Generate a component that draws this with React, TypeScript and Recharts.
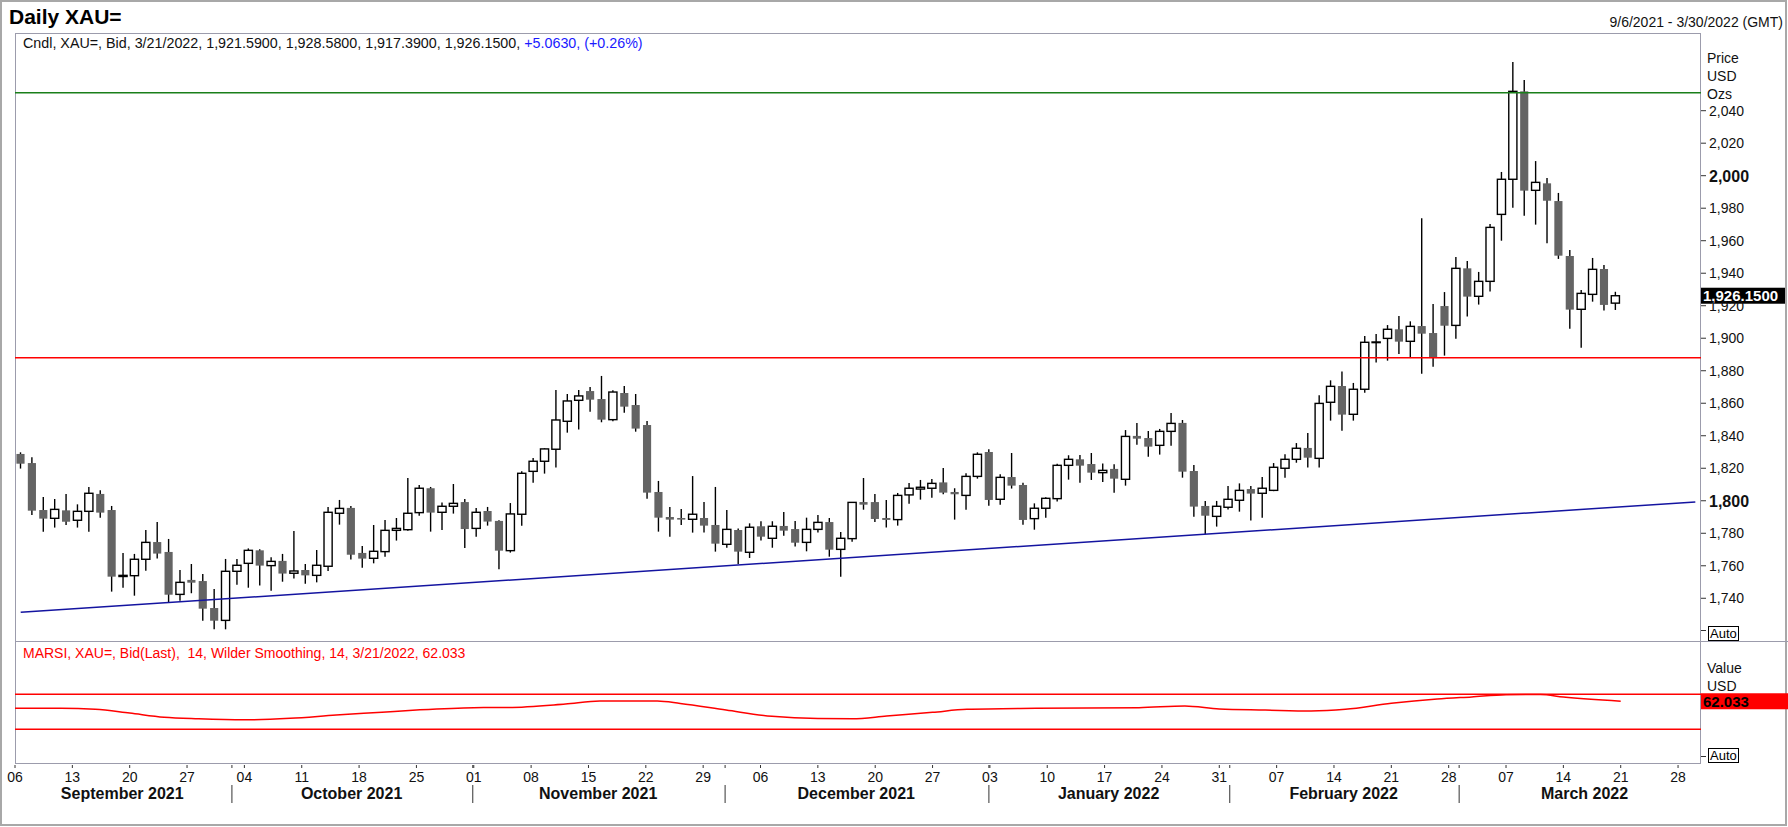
import { ComposedChart, Bar, Line, XAxis, YAxis, ReferenceLine } from "recharts";

const W = 1788;
const H = 827;
const PLOT_LEFT = 15;
const PLOT_RIGHT = 1701;
const MAIN_TOP = 33;
const MAIN_BOTTOM = 642;
const RSI_BOTTOM = 764;
const FONT = "'Liberation Sans', Arial, sans-serif";

// weekday calendar shown on the axis: 9/6/2021 - 3/30/2022
const days: string[] = [];
for (let t = Date.UTC(2021, 8, 6); t <= Date.UTC(2022, 2, 30); t += 86400000) {
  const d = new Date(t);
  const wd = d.getUTCDay();
  if (wd !== 0 && wd !== 6) days.push(d.toISOString().slice(0, 10));
}

const monthLabels = [
  "September 2021",
  "October 2021",
  "November 2021",
  "December 2021",
  "January 2022",
  "February 2022",
  "March 2022",
];

const opens = [
  1828.8, 1823.2, 1794.3, 1789.2, 1794.1, 1788.0, 1793.5, 1804.2, 1794.3, 1753.4,
  1753.9, 1764.0, 1774.6, 1768.5, 1742.4, 1751.3, 1750.6, 1734.0, 1726.4, 1756.6,
  1761.5, 1769.5, 1760.1, 1763.0, 1755.4, 1757.4, 1754.1, 1759.7, 1792.3, 1795.6,
  1767.9, 1764.6, 1768.7, 1781.8, 1782.2, 1792.7, 1807.7, 1792.9, 1796.6, 1799.2,
  1783.0, 1793.7, 1787.6, 1769.3, 1791.7, 1818.1, 1824.3, 1831.7, 1848.9, 1861.8,
  1867.5, 1862.6, 1849.9, 1866.3, 1858.9, 1846.6, 1805.4, 1790.0, 1789.4, 1788.6,
  1789.4, 1785.1, 1773.2, 1782.0, 1768.3, 1784.3, 1776.9, 1784.5, 1782.6, 1774.4,
  1782.4, 1786.9, 1770.1, 1776.7, 1799.2, 1799.2, 1789.4, 1788.4, 1803.6, 1807.2,
  1807.7, 1811.3, 1805.4, 1803.3, 1815.0, 1830.0, 1800.9, 1814.6, 1809.7, 1789.0,
  1795.4, 1801.3, 1821.8, 1825.5, 1822.6, 1817.3, 1819.6, 1813.2, 1839.9, 1838.6,
  1834.1, 1842.7, 1847.9, 1818.3, 1796.8, 1790.4, 1796.0, 1800.3, 1807.2, 1804.6,
  1806.4, 1820.0, 1825.5, 1832.5, 1826.1, 1860.6, 1870.6, 1853.2, 1868.6, 1897.3,
  1899.9, 1905.5, 1898.1, 1907.5, 1903.2, 1919.8, 1907.9, 1943.0, 1925.8, 1935.0,
  1976.2, 1997.8, 2051.9, 1991.0, 1995.3, 1984.4, 1950.6, 1917.8, 1927.0, 1942.6,
  1921.59,
];

const highs = [
  1829.8, 1826.7, 1802.3, 1801.1, 1804.2, 1797.8, 1808.5, 1806.4, 1796.8, 1767.9,
  1767.3, 1782.0, 1786.9, 1776.5, 1757.4, 1761.1, 1755.0, 1745.7, 1764.2, 1764.2,
  1770.7, 1770.1, 1765.2, 1767.3, 1781.4, 1761.1, 1769.7, 1796.2, 1800.5, 1796.8,
  1772.2, 1785.1, 1788.2, 1789.4, 1814.0, 1809.7, 1808.5, 1799.0, 1810.3, 1801.1,
  1795.6, 1796.2, 1788.0, 1798.6, 1818.1, 1826.3, 1832.3, 1868.2, 1865.7, 1868.2,
  1870.0, 1876.8, 1868.0, 1870.6, 1865.7, 1849.1, 1812.2, 1796.2, 1794.9, 1815.2,
  1799.2, 1808.5, 1794.3, 1783.0, 1786.1, 1787.4, 1787.4, 1793.1, 1787.6, 1789.6,
  1791.3, 1789.4, 1780.8, 1799.2, 1814.0, 1804.2, 1800.5, 1804.8, 1810.9, 1812.8,
  1813.4, 1820.2, 1807.7, 1816.9, 1829.8, 1831.7, 1816.3, 1829.4, 1811.1, 1798.4,
  1802.1, 1822.8, 1828.0, 1828.2, 1829.4, 1823.0, 1822.4, 1843.5, 1847.9, 1842.9,
  1844.2, 1854.0, 1849.7, 1822.0, 1799.9, 1799.9, 1809.1, 1810.7, 1809.1, 1814.6,
  1823.2, 1828.6, 1835.5, 1841.7, 1864.9, 1874.1, 1879.6, 1872.5, 1901.4, 1902.6,
  1908.1, 1913.7, 1910.4, 1973.8, 1921.1, 1928.4, 1950.0, 1947.5, 1940.8, 1970.3,
  2002.3, 2070.0, 2058.9, 2009.0, 1998.6, 1989.4, 1954.3, 1929.7, 1949.4, 1945.1,
  1928.58,
];

const lows = [
  1819.8, 1791.2, 1781.0, 1783.5, 1785.1, 1783.5, 1781.0, 1789.6, 1744.1, 1746.5,
  1741.6, 1757.0, 1764.4, 1737.5, 1738.5, 1743.1, 1726.2, 1720.9, 1720.9, 1748.4,
  1746.5, 1747.8, 1744.7, 1750.2, 1752.1, 1749.0, 1749.8, 1756.8, 1785.3, 1763.8,
  1758.8, 1761.5, 1765.6, 1775.5, 1781.6, 1790.8, 1781.0, 1782.0, 1792.1, 1770.9,
  1777.9, 1784.7, 1757.8, 1768.1, 1784.7, 1811.1, 1816.7, 1820.4, 1841.9, 1843.8,
  1854.8, 1848.3, 1848.9, 1854.2, 1842.5, 1801.3, 1781.0, 1777.9, 1785.1, 1780.4,
  1780.4, 1768.7, 1771.1, 1761.1, 1764.8, 1775.5, 1771.1, 1778.5, 1771.8, 1768.9,
  1780.4, 1765.6, 1753.3, 1774.8, 1794.5, 1786.9, 1783.5, 1784.7, 1798.2, 1800.7,
  1801.9, 1804.0, 1788.4, 1794.5, 1813.6, 1797.0, 1797.6, 1807.5, 1785.3, 1782.2,
  1789.6, 1799.5, 1813.0, 1811.1, 1812.8, 1811.5, 1805.0, 1809.3, 1834.5, 1827.1,
  1828.4, 1833.9, 1814.2, 1790.2, 1779.4, 1784.1, 1794.7, 1793.3, 1787.8, 1789.6,
  1805.9, 1814.2, 1823.4, 1820.4, 1820.4, 1849.3, 1843.1, 1849.3, 1866.5, 1885.0,
  1886.2, 1890.3, 1887.8, 1878.2, 1882.5, 1889.3, 1899.7, 1913.3, 1920.7, 1928.7,
  1960.0, 1980.3, 1975.4, 1969.9, 1958.4, 1948.8, 1905.9, 1894.2, 1922.5, 1917.0,
  1917.39,
];

const closes = [
  1822.8, 1793.9, 1789.0, 1794.7, 1787.1, 1793.5, 1804.6, 1792.7, 1753.3, 1754.1,
  1764.0, 1774.4, 1767.5, 1742.2, 1749.8, 1749.6, 1733.6, 1726.2, 1756.6, 1760.3,
  1769.5, 1760.1, 1762.7, 1755.2, 1756.8, 1754.1, 1760.3, 1792.9, 1795.3, 1766.8,
  1764.4, 1768.9, 1781.8, 1783.0, 1792.3, 1807.7, 1792.7, 1796.6, 1798.4, 1782.6,
  1792.9, 1787.2, 1769.3, 1791.9, 1816.9, 1824.3, 1831.9, 1849.7, 1861.4, 1864.5,
  1862.2, 1849.9, 1866.9, 1857.9, 1844.4, 1805.0, 1789.6, 1788.4, 1788.4, 1791.7,
  1784.7, 1773.6, 1782.4, 1768.7, 1783.7, 1777.9, 1784.3, 1781.6, 1774.2, 1782.4,
  1786.7, 1769.9, 1776.9, 1799.0, 1797.6, 1788.8, 1788.2, 1803.3, 1807.7, 1808.3,
  1810.7, 1805.0, 1804.0, 1815.0, 1828.6, 1800.5, 1814.4, 1809.3, 1788.2, 1795.4,
  1801.5, 1821.8, 1825.5, 1821.6, 1817.3, 1818.7, 1813.6, 1839.6, 1838.2, 1833.3,
  1842.7, 1847.6, 1817.9, 1796.4, 1790.8, 1796.6, 1800.9, 1806.4, 1804.4, 1807.7,
  1820.6, 1825.5, 1832.3, 1826.5, 1859.9, 1870.4, 1853.0, 1868.6, 1897.5, 1897.7,
  1905.5, 1897.9, 1907.3, 1902.8, 1887.8, 1907.7, 1943.0, 1925.6, 1935.0, 1968.2,
  1997.8, 2051.9, 1990.8, 1995.9, 1984.6, 1950.8, 1917.6, 1927.6, 1942.4, 1920.5,
  1926.15,
];

// MARSI(14): [trading-day index, value]
const rsiPoints: [number, number][] = [
  [0, 54.0], [4, 54.0], [7, 52.9], [10, 48.5], [13, 43.8], [16, 42.0], [20, 40.8],
  [24, 42.6], [28, 46.3], [32, 49.5], [35, 52.0], [40, 54.7], [43, 54.9], [48, 58.9],
  [51, 62.2], [56, 62.3], [58, 59.5], [62, 52.0], [66, 44.8], [70, 42.2], [73, 42.0],
  [76, 45.2], [80, 49.4], [83, 52.8], [89, 54.0], [98, 54.7], [102, 56.6], [105, 53.2],
  [109, 52.0], [113, 50.9], [116, 52.8], [120, 59.7], [124, 64.6], [127, 67.0],
  [130, 69.4], [133, 69.8], [135, 66.8], [140, 62.033],
];

const priceTicks = [1740, 1760, 1780, 1800, 1820, 1840, 1860, 1880, 1900, 1920, 1940, 1960, 1980, 2000, 2020, 2040];
const priceDomain: [number, number] = [1713.1, 2087.8];
const resistance = 2051;
const support = 1888;
const trendStart = 1731.4;
const trendEnd = 1799.3;
const rsiLevels = [70, 30];
const rsiDomain: [number, number] = [-9.7, 129.8];

const rsiMap = new Map(rsiPoints);
const data = days.map((date, i) => ({
  date,
  open: opens[i] ?? null,
  high: highs[i] ?? null,
  low: lows[i] ?? null,
  close: closes[i] ?? null,
  rsi: rsiMap.has(i) ? rsiMap.get(i) : null,
}));

const lastClose = closes[closes.length - 1];
const lastRsi = rsiPoints[rsiPoints.length - 1][1];

const monthSpans = monthLabels.map((label, k) => {
  const idx = days
    .map((d, i) => ({ d, i }))
    .filter(({ d }) => {
      const dt = new Date(d + "T00:00:00Z");
      const m = (dt.getUTCFullYear() - 2021) * 12 + dt.getUTCMonth() - 8;
      return m === k;
    })
    .map(({ i }) => i);
  return { label, first: idx[0], last: idx[idx.length - 1] };
});

const band = (PLOT_RIGHT - PLOT_LEFT) / days.length;

const Candle = (props: any) => {
  const { x, y, width, height, payload } = props;
  if (payload == null || payload.open == null) return null;
  const { open, high, low, close } = payload;
  const top = Math.min(y, y + height);
  const h = Math.abs(height);
  const ratio = high > low ? h / (high - low) : 0;
  const yOf = (v: number) => top + (high - v) * ratio;
  const cx = x + width / 2;
  const bw = width * 0.74;
  const up = close >= open;
  const bTop = yOf(Math.max(open, close));
  const bBot = yOf(Math.min(open, close));
  return (
    <g>
      <line x1={cx} x2={cx} y1={top} y2={top + h} stroke="#000" strokeWidth={1.4} />
      {up ? (
        <rect x={cx - bw / 2} y={bTop} width={bw} height={Math.max(bBot - bTop, 0.5)} fill="#fff" stroke="#000" strokeWidth={1.4} />
      ) : (
        <rect x={cx - bw / 2} y={bTop} width={bw} height={Math.max(bBot - bTop, 1.5)} fill="#646464" />
      )}
    </g>
  );
};

const PriceTick = (props: any) => {
  const { y, payload } = props;
  const v = payload.value as number;
  const bold = v % 200 === 0;
  return (
    <g>
      <line x1={PLOT_RIGHT} x2={PLOT_RIGHT + 5} y1={y} y2={y} stroke="#333" />
      <text
        x={PLOT_RIGHT + 8}
        y={y + (bold ? 6 : 5)}
        fontSize={bold ? 16 : 14}
        fontWeight={bold ? 700 : 400}
        fontFamily={FONT}
        fill="#111"
      >
        {v.toLocaleString("en-US")}
      </text>
    </g>
  );
};

const DateTick = (props: any) => {
  const { x, payload } = props;
  const date: string = payload.value;
  const i = days.indexOf(date);
  const dt = new Date(date + "T00:00:00Z");
  const out: any[] = [];
  if (dt.getUTCDay() === 1) {
    out.push(<line key="t" x1={x} x2={x} y1={RSI_BOTTOM + 1} y2={RSI_BOTTOM + 4} stroke="#333" />);
    out.push(
      <text key="d" x={x} y={RSI_BOTTOM + 18} textAnchor="middle" fontSize={14} fontFamily={FONT} fill="#111">
        {String(dt.getUTCDate()).padStart(2, "0")}
      </text>
    );
  }
  for (const s of monthSpans) {
    if (s.first === i && i > 0) {
      out.push(<line key="s1" x1={x - 1} x2={x - 1} y1={RSI_BOTTOM + 1} y2={RSI_BOTTOM + 4} stroke="#333" />);
      out.push(<line key="s2" x1={x - 1} x2={x - 1} y1={RSI_BOTTOM + 21} y2={RSI_BOTTOM + 39} stroke="#333" />);
    }
    const mid = (s.first + s.last) / 2;
    if (Math.floor(mid) === i) {
      out.push(
        <text
          key="m"
          x={x + (mid - i) * band + 4}
          y={RSI_BOTTOM + 35}
          textAnchor="middle"
          fontSize={16}
          fontWeight={700}
          fontFamily={FONT}
          fill="#111"
        >
          {s.label}
        </text>
      );
    }
  }
  return <g>{out}</g>;
};

const Badge = (props: any) => {
  const { viewBox, text, bg, color, w } = props;
  if (!viewBox) return null;
  const x = viewBox.x + viewBox.width;
  const y = viewBox.y;
  return (
    <g>
      <rect x={x} y={y - 8} width={w} height={16} fill={bg} />
      <text x={x + 2} y={y + 5.5} fontSize={15} fontWeight={700} fontFamily={FONT} fill={color}>
        {text}
      </text>
    </g>
  );
};

const txt = (left: number, top: number, s: string, extra: any = {}) => (
  <div
    style={{
      position: "absolute",
      left,
      top,
      fontSize: 14,
      lineHeight: "16px",
      whiteSpace: "nowrap",
      color: "#111",
      ...extra,
    }}
  >
    {s}
  </div>
);

const App = () => {
  return (
    <div style={{ position: "relative", width: W, height: H, background: "#fff", fontFamily: FONT, overflow: "hidden" }}>
      <style>{"body{margin:0}"}</style>

      <div style={{ position: "absolute", left: 0, top: 0, width: W - 1, height: H - 1, boxSizing: "border-box", border: "2px solid #a8a8a8" }} />
      <div
        style={{
          position: "absolute",
          left: PLOT_LEFT,
          top: MAIN_TOP,
          width: PLOT_RIGHT - PLOT_LEFT,
          height: RSI_BOTTOM - MAIN_TOP,
          boxSizing: "border-box",
          border: "1.5px solid #9c9cac",
        }}
      />
      <div style={{ position: "absolute", left: PLOT_LEFT, top: MAIN_BOTTOM - 1, width: W - PLOT_LEFT, height: 0, borderTop: "1.5px solid #9c9cac" }} />

      <div style={{ position: "absolute", left: 0, top: 0 }}>
        <ComposedChart
          width={W}
          height={H}
          data={data}
          margin={{ top: MAIN_TOP, right: W - PLOT_RIGHT - 80, bottom: H - MAIN_BOTTOM, left: PLOT_LEFT }}
          barCategoryGap={0}
          barGap={0}
        >
          <XAxis dataKey="date" hide />
          <YAxis
            orientation="right"
            width={80}
            type="number"
            domain={priceDomain}
            allowDataOverflow
            ticks={priceTicks}
            interval={0}
            axisLine={false}
            tickLine={false}
            tick={<PriceTick />}
          />
          <ReferenceLine y={resistance} stroke="#1a7f1a" strokeWidth={1.5} />
          <ReferenceLine y={support} stroke="#ff0000" strokeWidth={1.5} />
          <ReferenceLine
            segment={[
              { x: days[0], y: trendStart },
              { x: days[days.length - 1], y: trendEnd },
            ]}
            stroke="#1414a0"
            strokeWidth={1.5}
          />
          <Bar
            dataKey={(d: any) => (d.high == null ? null : [d.low, d.high])}
            shape={<Candle />}
            isAnimationActive={false}
          />
          <ReferenceLine
            y={lastClose}
            strokeOpacity={0}
            label={<Badge text={lastClose.toLocaleString("en-US", { minimumFractionDigits: 4 })} bg="#000" color="#fff" w={84} />}
          />
        </ComposedChart>
      </div>

      <div style={{ position: "absolute", left: 0, top: 0 }}>
        <ComposedChart
          width={W}
          height={H}
          data={data}
          margin={{ top: MAIN_BOTTOM, right: W - PLOT_RIGHT, bottom: H - RSI_BOTTOM - 60, left: PLOT_LEFT }}
        >
          <XAxis
            dataKey="date"
            height={60}
            interval={0}
            axisLine={false}
            tickLine={false}
            tick={<DateTick />}
          />
          <YAxis hide type="number" domain={rsiDomain} allowDataOverflow />
          {rsiLevels.map((v) => (
            <ReferenceLine key={v} y={v} stroke="#ff0000" strokeWidth={1.5} />
          ))}
          <Line
            dataKey="rsi"
            type="monotone"
            stroke="#ff0000"
            strokeWidth={1.5}
            dot={false}
            connectNulls
            isAnimationActive={false}
          />
          <ReferenceLine
            y={lastRsi}
            strokeOpacity={0}
            label={<Badge text={lastRsi.toFixed(3)} bg="#ff0000" color="#000" w={87} />}
          />
        </ComposedChart>
      </div>

      {txt(9, 4, "Daily XAU=", { fontSize: 21, fontWeight: 700, lineHeight: "26px", color: "#000" })}
      <div style={{ position: "absolute", left: 23, top: 35, fontSize: 14.3, lineHeight: "16px", whiteSpace: "nowrap", color: "#111" }}>
        Cndl, XAU=, Bid, 3/21/2022, 1,921.5900, 1,928.5800, 1,917.3900, 1,926.1500,{" "}
        <span style={{ color: "#1a1aff" }}>+5.0630, (+0.26%)</span>
      </div>
      <div style={{ position: "absolute", right: 5, top: 14, fontSize: 14, lineHeight: "16px", whiteSpace: "nowrap", color: "#111" }}>
        9/6/2021 - 3/30/2022 (GMT)
      </div>
      {txt(1707, 50, "Price")}
      {txt(1707, 68, "USD")}
      {txt(1707, 86, "Ozs")}
      {txt(23, 645, "MARSI, XAU=, Bid(Last),  14, Wilder Smoothing, 14, 3/21/2022, 62.033", { color: "#ff0000", whiteSpace: "pre" })}
      {txt(1707, 660, "Value")}
      {txt(1707, 678, "USD")}

      <div style={{ position: "absolute", left: PLOT_RIGHT, top: 630, width: 5, borderTop: "1px solid #333" }} />
      <div style={{ position: "absolute", left: 1708, top: 626, padding: "0 1px", border: "1px solid #000", fontSize: 13, lineHeight: "13px", background: "#fff" }}>
        Auto
      </div>
      <div style={{ position: "absolute", left: PLOT_RIGHT, top: 756, width: 5, borderTop: "1px solid #333" }} />
      <div style={{ position: "absolute", left: 1708, top: 748, padding: "0 1px", border: "1px solid #000", fontSize: 13, lineHeight: "13px", background: "#fff" }}>
        Auto
      </div>
    </div>
  );
};

export default App;
